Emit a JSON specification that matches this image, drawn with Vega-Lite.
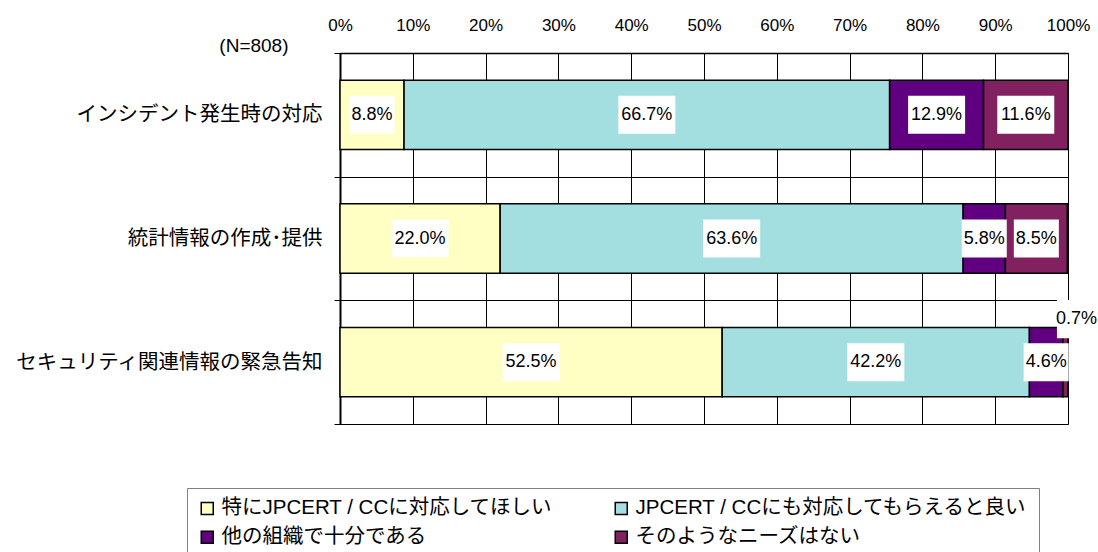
{
  "$schema": "https://vega.github.io/schema/vega-lite/v6.json",
  "autosize": "none",
  "width": 728,
  "height": 371,
  "padding": {"left": 340, "top": 53, "right": 30, "bottom": 128},
  "background": "white",
  "config": {
    "view": {"stroke": "#808080", "strokeWidth": 1},
    "font": "Liberation Sans, Noto Sans CJK JP"
  },
  "data": {
    "values": [
      {"cat": "インシデント発生時の対応", "resp": "特にJPCERT / CCに対応してほしい", "v": 8.8},
      {"cat": "インシデント発生時の対応", "resp": "JPCERT / CCにも対応してもらえると良い", "v": 66.7},
      {"cat": "インシデント発生時の対応", "resp": "他の組織で十分である", "v": 12.9},
      {"cat": "インシデント発生時の対応", "resp": "そのようなニーズはない", "v": 11.6},
      {"cat": "統計情報の作成･提供", "resp": "特にJPCERT / CCに対応してほしい", "v": 22.0},
      {"cat": "統計情報の作成･提供", "resp": "JPCERT / CCにも対応してもらえると良い", "v": 63.6},
      {"cat": "統計情報の作成･提供", "resp": "他の組織で十分である", "v": 5.8},
      {"cat": "統計情報の作成･提供", "resp": "そのようなニーズはない", "v": 8.5},
      {"cat": "セキュリティ関連情報の緊急告知", "resp": "特にJPCERT / CCに対応してほしい", "v": 52.5},
      {"cat": "セキュリティ関連情報の緊急告知", "resp": "JPCERT / CCにも対応してもらえると良い", "v": 42.2},
      {"cat": "セキュリティ関連情報の緊急告知", "resp": "他の組織で十分である", "v": 4.6},
      {"cat": "セキュリティ関連情報の緊急告知", "resp": "そのようなニーズはない", "v": 0.7}
    ]
  },
  "transform": [
    {"calculate": "indexof(['特にJPCERT / CCに対応してほしい','JPCERT / CCにも対応してもらえると良い','他の組織で十分である','そのようなニーズはない'], datum.resp)", "as": "k"},
    {"stack": "v", "groupby": ["cat"], "sort": [{"field": "k", "order": "ascending"}], "as": ["v0", "v1"]},
    {"calculate": "(datum.v0 + datum.v1) / 2", "as": "mid"},
    {"calculate": "format(datum.v, '.1f') + '%'", "as": "lab"}
  ],
  "layer": [
    {
      "mark": {"type": "bar", "stroke": "black", "strokeWidth": 1.5, "height": {"band": 0.56}},
      "encoding": {
        "y": {
          "field": "cat",
          "type": "nominal",
          "sort": ["インシデント発生時の対応", "統計情報の作成･提供", "セキュリティ関連情報の緊急告知"],
          "scale": {"paddingInner": 0, "paddingOuter": 0},
          "axis": {
            "orient": "left",
            "title": "(N=808)",
            "titleAngle": 0,
            "titleX": -52,
            "titleY": -8,
            "titleAlign": "right",
            "titleBaseline": "middle",
            "titleFont": "Liberation Sans",
            "titleFontSize": 19,
            "titleFontWeight": "normal",
            "titleColor": "black",
            "labelFont": "Liberation Sans, Noto Sans CJK JP",
            "labelFontSize": 20.5,
            "labelColor": "black",
            "labelPadding": 12,
            "labelLimit": 500,
            "tickBand": "extent",
            "ticks": true,
            "tickSize": 6,
            "tickColor": "black",
            "grid": true,
            "gridColor": "black",
            "gridWidth": 1,
            "domain": true,
            "domainColor": "black",
            "domainWidth": 2
          }
        },
        "x": {
          "field": "v0",
          "type": "quantitative",
          "scale": {"domain": [0, 100], "nice": false},
          "axis": {
            "orient": "top",
            "title": null,
            "values": [0, 10, 20, 30, 40, 50, 60, 70, 80, 90, 100],
            "labelExpr": "datum.value + '%'",
            "labelFont": "Liberation Sans",
            "labelFontSize": 17,
            "labelColor": "black",
            "labelFlush": false,
            "labelOverlap": false,
            "labelPadding": 19,
            "ticks": false,
            "domain": true,
            "domainColor": "black",
            "domainWidth": 1.5,
            "grid": true,
            "gridColor": "black",
            "gridWidth": 1
          }
        },
        "x2": {"field": "v1"},
        "color": {
          "field": "resp",
          "type": "nominal",
          "scale": {
            "domain": ["特にJPCERT / CCに対応してほしい", "JPCERT / CCにも対応してもらえると良い", "他の組織で十分である", "そのようなニーズはない"],
            "range": ["#FFFFC4", "#A3DFE0", "#600080", "#812160"]
          },
          "legend": {
            "orient": "none",
            "legendX": -153,
            "legendY": 435,
            "direction": "horizontal",
            "columns": 2,
            "title": null,
            "symbolType": "square",
            "symbolSize": 144,
            "symbolStrokeColor": "black",
            "symbolStrokeWidth": 1.5,
            "labelFont": "Liberation Sans, Noto Sans CJK JP",
            "labelFontSize": 20.5,
            "labelColor": "black",
            "labelLimit": 600,
            "labelOffset": 4,
            "columnPadding": 58,
            "rowPadding": 8,
            "padding": 10,
            "strokeColor": "#808080",
            "fillColor": "white"
          }
        }
      }
    },
    {
      "transform": [{"filter": "datum.v >= 10"}],
      "mark": {"type": "point", "shape": "M-1,-0.667H1V0.667H-1Z", "filled": true, "color": "white", "opacity": 1, "strokeWidth": 0, "size": 3249},
      "encoding": {
        "x": {"field": "mid", "type": "quantitative"},
        "y": {"field": "cat", "type": "nominal", "sort": ["インシデント発生時の対応", "統計情報の作成･提供", "セキュリティ関連情報の緊急告知"], "bandPosition": 0.5}
      }
    },
    {
      "transform": [{"filter": "datum.v < 10 && datum.v >= 2"}],
      "mark": {"type": "point", "shape": "M-0.79,-0.667H0.79V0.667H-0.79Z", "filled": true, "color": "white", "opacity": 1, "strokeWidth": 0, "size": 3249},
      "encoding": {
        "x": {"field": "mid", "type": "quantitative"},
        "y": {"field": "cat", "type": "nominal", "sort": ["インシデント発生時の対応", "統計情報の作成･提供", "セキュリティ関連情報の緊急告知"], "bandPosition": 0.5}
      }
    },
    {
      "transform": [{"filter": "datum.v < 2"}],
      "mark": {"type": "point", "shape": "M-0.79,-0.667H0.79V0.667H-0.79Z", "filled": true, "color": "white", "opacity": 1, "strokeWidth": 0, "size": 3249},
      "encoding": {
        "x": {"field": "mid", "type": "quantitative"},
        "y": {"field": "cat", "type": "nominal", "sort": ["インシデント発生時の対応", "統計情報の作成･提供", "セキュリティ関連情報の緊急告知"], "bandPosition": 0.152},
        "xOffset": {"value": 14}
      }
    },
    {
      "transform": [{"filter": "datum.v >= 2"}],
      "mark": {"type": "text", "font": "Liberation Sans", "fontSize": 18, "color": "black", "align": "center", "baseline": "middle"},
      "encoding": {
        "x": {"field": "mid", "type": "quantitative"},
        "y": {"field": "cat", "type": "nominal", "sort": ["インシデント発生時の対応", "統計情報の作成･提供", "セキュリティ関連情報の緊急告知"], "bandPosition": 0.5},
        "text": {"field": "lab"}
      }
    },
    {
      "transform": [{"filter": "datum.v < 2"}],
      "mark": {"type": "text", "font": "Liberation Sans", "fontSize": 18, "color": "black", "align": "center", "baseline": "middle", "dx": 11, "dy": -43},
      "encoding": {
        "x": {"field": "mid", "type": "quantitative"},
        "y": {"field": "cat", "type": "nominal", "sort": ["インシデント発生時の対応", "統計情報の作成･提供", "セキュリティ関連情報の緊急告知"], "bandPosition": 0.5},
        "text": {"field": "lab"}
      }
    }
  ]
}
